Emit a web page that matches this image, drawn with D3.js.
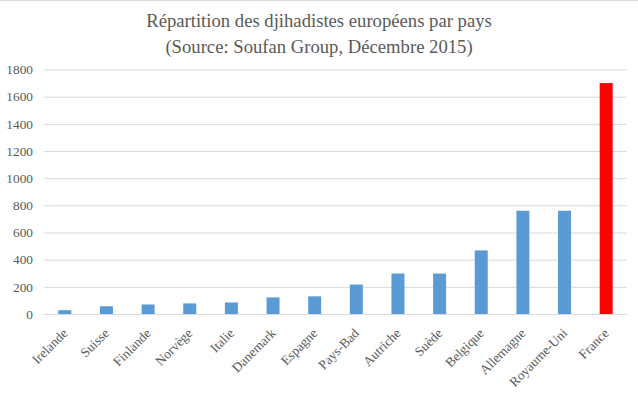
<!DOCTYPE html>
<html>
<head>
<meta charset="utf-8">
<script src="https://cdn.jsdelivr.net/npm/d3@7"></script>
<style>
  body { margin: 0; background: #fff; }
  text { font-family: "Liberation Serif", "Times New Roman", serif; fill: #595959; }
</style>
</head>
<body>
<div id="chart"></div>
<script>
// data (Soufan Group, Dec 2015)
var pays = ["Irelande", "Suisse", "Finlande", "Norvège", "Italie", "Danemark", "Espagne",
            "Pays-Bad", "Autriche", "Suède", "Belgique", "Allemagne", "Royaume-Uni", "France"];
var djihadistes = [28, 57, 70, 78, 85, 122, 130, 217, 298, 298, 468, 760, 760, 1700];
var yTicks = [0, 200, 400, 600, 800, 1000, 1200, 1400, 1600, 1800];
var titre = ["Répartition des djihadistes européens par pays",
             "(Source: Soufan Group, Décembre 2015)"];

var W = 638, H = 397;
var margin = {top: 69.5, right: 11, bottom: 83, left: 44};
var width = W - margin.left - margin.right,
    height = H - margin.top - margin.bottom;

var svg = d3.select("#chart").append("svg")
    .attr("width", W)
    .attr("height", H);

// thin chart border at top
svg.append("line")
    .attr("x1", 0).attr("x2", W).attr("y1", 0.5).attr("y2", 0.5)
    .attr("stroke", "#d9d9d9");

// title (14pt)
svg.append("text")
    .attr("text-anchor", "middle")
    .style("font-size", "18.67px")
    .selectAll("tspan")
    .data(titre)
    .enter().append("tspan")
      .attr("x", 319)
      .attr("y", function(d, i) { return 26.5 + i * 26; })
      .text(function(d) { return d; });

var g = svg.append("g")
    .attr("transform", "translate(" + margin.left + "," + margin.top + ")");

var x = d3.scaleBand()
    .domain(pays)
    .range([0, width])
    .paddingInner(0.688)
    .paddingOuter(0.344);

var y = d3.scaleLinear()
    .domain([0, 1800])
    .range([height, 0]);

// gridlines + y labels
var yAxis = g.append("g")
    .call(d3.axisLeft(y).tickValues(yTicks).tickFormat(d3.format("d")).tickSize(-width).tickPadding(11));
yAxis.select(".domain").remove();
yAxis.selectAll(".tick line").attr("stroke", "#d9d9d9");
yAxis.selectAll(".tick text")
    .style("font-size", "13.33px")
    .attr("fill", "#595959");

// bars
g.selectAll(".bar")
    .data(djihadistes)
    .enter().append("rect")
      .attr("class", "bar")
      .attr("x", function(d, i) { return x(pays[i]); })
      .attr("width", x.bandwidth())
      .attr("y", function(d) { return y(d); })
      .attr("height", function(d) { return height - y(d); })
      .attr("fill", function(d, i) { return pays[i] === "France" ? "#ff0000" : "#5b9bd5"; });

// x axis line
g.append("line")
    .attr("x1", 0).attr("x2", width)
    .attr("y1", height + 0.5).attr("y2", height + 0.5)
    .attr("stroke", "#d9d9d9");

// rotated category labels
g.selectAll(".cat")
    .data(pays)
    .enter().append("text")
      .attr("class", "cat")
      .attr("text-anchor", "end")
      .style("font-size", "13.33px")
      .attr("transform", function(d) {
          return "translate(" + (x(d) + x.bandwidth() / 2 + 3.5) + "," + (height + 20) + ") rotate(-45)";
      })
      .text(function(d) { return d; });
</script>
</body>
</html>
